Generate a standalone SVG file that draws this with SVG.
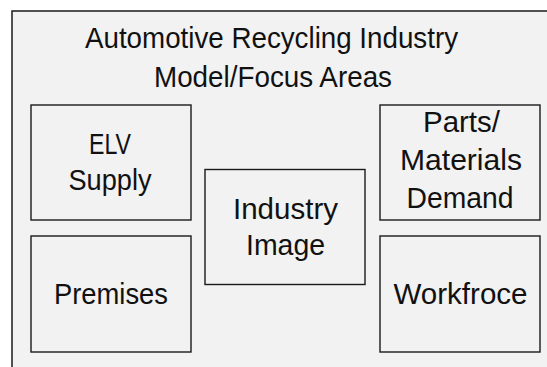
<svg xmlns="http://www.w3.org/2000/svg" width="547" height="367" viewBox="0 0 547 367">
<style>
.box{fill:#f2f2f2;stroke:#1a1a1a;stroke-width:1.4}
.t{font-family:"Liberation Sans",Arial,sans-serif;font-size:29px;fill:#111;text-anchor:middle}
</style>
<rect width="547" height="367" fill="#ffffff"/>
<g id="frame">
<rect x="12" y="11" width="600" height="400" fill="#f2f2f2" stroke="#1a1a1a" stroke-width="1.5"/>
<text class="t" x="271.5" y="48" textLength="373" lengthAdjust="spacingAndGlyphs">Automotive Recycling Industry</text>
<text class="t" x="273" y="86.5" textLength="238" lengthAdjust="spacingAndGlyphs">Model/Focus Areas</text>
</g>
<g id="connectors"></g>
<g id="elv-supply">
<rect class="box" x="31" y="105" width="160" height="115"/>
<text class="t" x="110" y="154" textLength="42" lengthAdjust="spacingAndGlyphs">ELV</text>
<text class="t" x="110" y="190" textLength="83" lengthAdjust="spacingAndGlyphs">Supply</text>
</g>
<g id="premises">
<rect class="box" x="31" y="236" width="160" height="116"/>
<text class="t" x="111" y="303.5" textLength="114" lengthAdjust="spacingAndGlyphs">Premises</text>
</g>
<g id="industry-image">
<rect class="box" x="205" y="169.5" width="160" height="115"/>
<text class="t" x="285.5" y="219.3" textLength="105" lengthAdjust="spacingAndGlyphs">Industry</text>
<text class="t" x="285.5" y="255" textLength="79" lengthAdjust="spacingAndGlyphs">Image</text>
</g>
<g id="parts-materials-demand">
<rect class="box" x="380" y="105" width="160" height="115"/>
<text class="t" x="461.5" y="131.7" textLength="77" lengthAdjust="spacingAndGlyphs">Parts/</text>
<text class="t" x="461" y="170" textLength="122" lengthAdjust="spacingAndGlyphs">Materials</text>
<text class="t" x="460" y="207.7" textLength="107" lengthAdjust="spacingAndGlyphs">Demand</text>
</g>
<g id="workforce">
<rect class="box" x="380" y="236" width="160" height="116"/>
<text class="t" x="460.5" y="304.3" textLength="134" lengthAdjust="spacingAndGlyphs">Workfroce</text>
</g>
</svg>
